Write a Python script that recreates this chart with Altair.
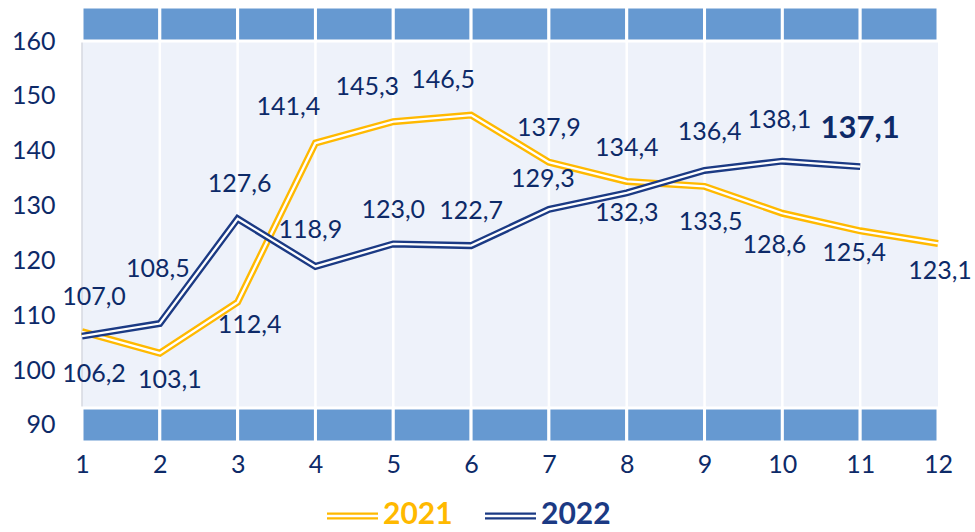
import altair as alt
import pandas as pd

# ---- data ----
months = list(range(1, 13))
v2021 = [107.0, 103.1, 112.4, 141.4, 145.3, 146.5, 137.9, 134.4, 133.5, 128.6, 125.4, 123.1]
v2022 = [106.2, 108.5, 127.6, 118.9, 123.0, 122.7, 129.3, 132.3, 136.4, 138.1, 137.1]
years = ["2021", "2022"]
y_ticks = [90, 100, 110, 120, 130, 140, 150, 160]

# label offsets (pixels) - styling only
off2021 = [(12, -35), (10, 27), (12, 23), (-27, -36), (-26, -35), (-28, -35),
           (0, -34), (0, -33), (6, 36), (-8, 32), (-6, 22), (2, 28)]
off2022 = [(12, 38), (-2, -55), (2, -35), (-5, -36), (0, -34), (0, -35),
           (-6, -30), (0, 20), (5, -38), (-3, -41), (0, -38)]

GOLD = "#FFB900"
NAVY = "#1B3A84"
TXT = "#0D2A68"
BAND = "#6699D1"
BG = "#EEF2FA"
FONT = "Lato"

xs = alt.Scale(domain=[1, 12], nice=False, zero=False)
ys = alt.Scale(domain=[86.9, 166.2], nice=False, zero=False)

AX = alt.Axis(values=months, format="d", title=None, labelFontSize=25, labelColor=TXT,
              labelFont=FONT, labelPadding=10, ticks=False, domain=False, grid=False,
              labelFlush=False, labelOverlap=False)
AY = alt.Axis(values=y_ticks, title=None, labelFontSize=25, labelColor=TXT, labelFont=FONT,
              labelPadding=27, ticks=False, domain=False, grid=False, labelOverlap=False)


def X(f):
    return alt.X(f, scale=xs, axis=AX)


def Y(f):
    return alt.Y(f, scale=ys, axis=AY)


df21 = pd.DataFrame({"m": months, "v": v2021})
df22 = pd.DataFrame({"m": months[:len(v2022)], "v": v2022})

# background area
bg_df = pd.DataFrame({"m1": [months[0]], "m2": [months[-1]], "lo": [93.1], "hi": [160.0]})
background = alt.Chart(bg_df).mark_rect(color=BG).encode(
    x=X("m1:Q"), x2="m2:Q", y=Y("lo:Q"), y2="hi:Q",
)

# vertical white gridlines
grid_df = pd.DataFrame({"m": months[1:-1]})
grid = alt.Chart(grid_df).mark_rule(color="white", strokeWidth=2.5).encode(
    x=X("m:Q"), y=alt.value(33), y2=alt.value(401),
)
left_line = alt.Chart(pd.DataFrame({"m": [1]})).mark_rule(color="#D6D9E0", strokeWidth=1.5).encode(
    x=X("m:Q"), y=alt.value(33), y2=alt.value(401),
)

# bands top and bottom
band_df = pd.DataFrame({"m1": months[:-1] * 2, "m2": months[1:] * 2,
                        "lo": [160.0] * 11 + [86.9] * 11,
                        "hi": [166.2] * 11 + [93.1] * 11})
bands = alt.Chart(band_df).mark_rect(color=BAND, stroke="white", strokeWidth=3).encode(
    x=X("m1:Q"), x2="m2:Q", y=Y("lo:Q"), y2="hi:Q",
)


def dbl_line(df, color):
    outer = alt.Chart(df).mark_line(color=color, strokeWidth=7, strokeJoin="miter").encode(
        x=X("m:Q"), y=Y("v:Q"))
    inner = alt.Chart(df).mark_line(color="white", strokeWidth=2.3, strokeJoin="miter").encode(
        x=X("m:Q"), y=Y("v:Q"))
    return [outer, inner]


def fmt(v):
    return f"{v:.1f}".replace(".", ",")


labels = []
for vals, offs, is22 in [(v2021, off2021, False), (v2022, off2022, True)]:
    for i, (v, (dx, dy)) in enumerate(zip(vals, offs)):
        last = is22 and i == len(vals) - 1
        d = pd.DataFrame({"m": [months[i]], "v": [v], "t": [fmt(v)]})
        labels.append(
            alt.Chart(d).mark_text(
                dx=dx, dy=dy, align="center", baseline="middle", font=FONT,
                fontSize=31 if last else 25, fontWeight="bold" if last else "normal", color=TXT,
            ).encode(x=X("m:Q"), y=Y("v:Q"), text="t:N")
        )

# legend (manual, double-line symbols)
one = pd.DataFrame({"a": [0]})
legend = []
for yr, col, x0 in [(years[0], GOLD, 245), (years[1], NAVY, 403)]:
    legend.append(alt.Chart(one).mark_rule(color=col, strokeWidth=7).encode(
        x=alt.value(x0), x2=alt.value(x0 + 51), y=alt.value(509)))
    legend.append(alt.Chart(one).mark_rule(color="white", strokeWidth=2.3).encode(
        x=alt.value(x0 - 1), x2=alt.value(x0 + 52), y=alt.value(509)))
    legend.append(alt.Chart(one).mark_text(align="left", baseline="middle", font=FONT,
                                           fontSize=30, fontWeight="bold", color=col).encode(
        x=alt.value(x0 + 56), y=alt.value(508), text=alt.value(yr)))

chart = alt.layer(
    background, grid, left_line, bands,
    *dbl_line(df21, GOLD), *dbl_line(df22, NAVY),
    *labels, *legend,
).properties(
    width=856, height=435,
    autosize=alt.AutoSizeParams(type="none"),
    padding={"left": 82, "top": 7, "right": 37, "bottom": 90},
    background="white",
).configure_view(stroke=None)

chart.save("out.html", embed_options={"renderer": "svg", "actions": False})
